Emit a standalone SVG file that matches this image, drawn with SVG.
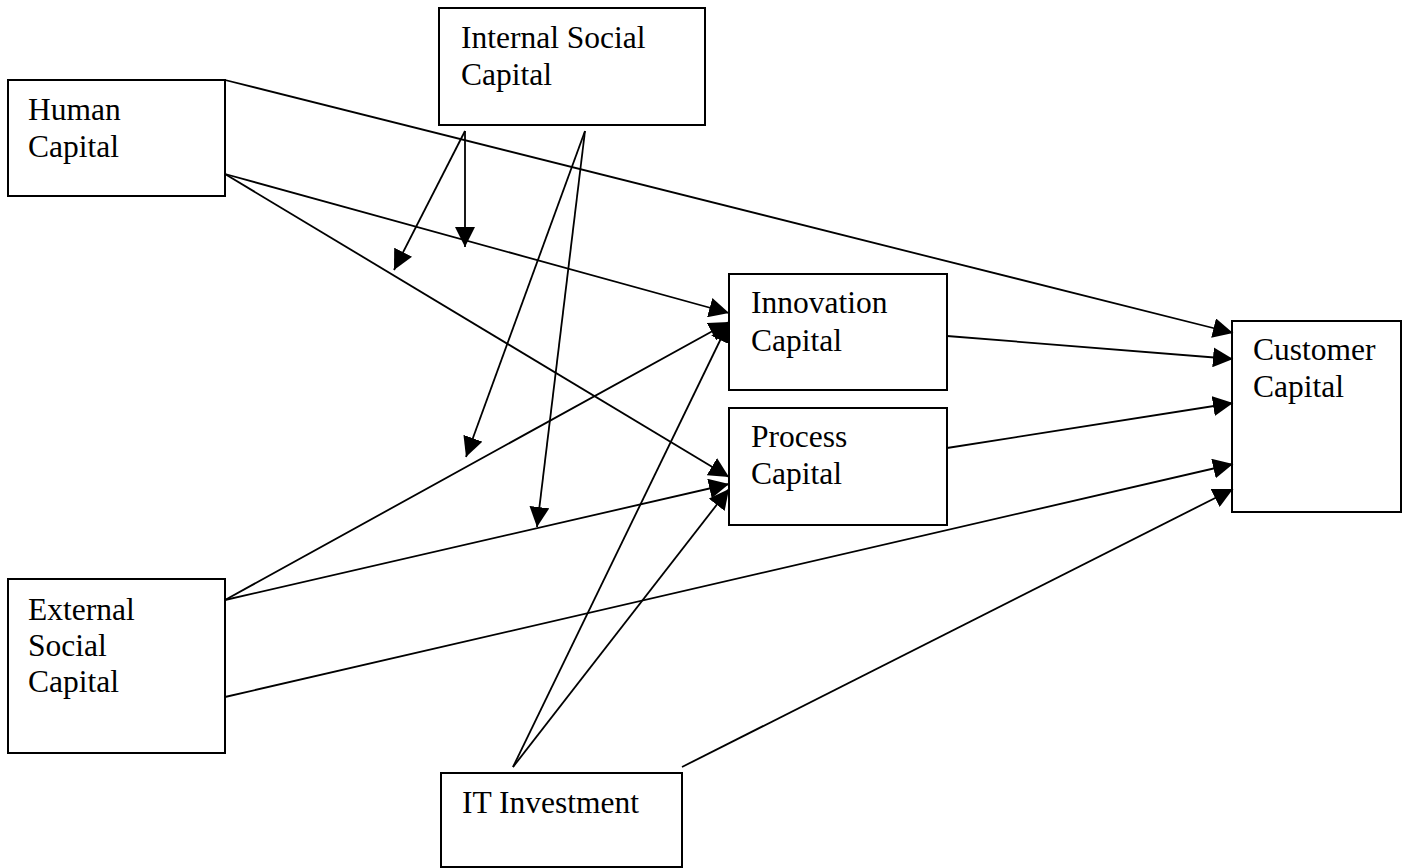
<svg xmlns="http://www.w3.org/2000/svg" width="1407" height="868" viewBox="0 0 1407 868">
<style>
.box{fill:#fff;stroke:#000;stroke-width:2}
.lbl{font-family:"Liberation Serif","Times New Roman",serif;font-size:31.5px;fill:#000}
.c line{stroke:#000;stroke-width:1.8;marker-end:url(#ah)}
.c line.n{marker-end:none}
</style>
<defs>
<marker id="ah" markerUnits="userSpaceOnUse" markerWidth="20" markerHeight="20" refX="20" refY="10" orient="auto">
<path d="M0,0 L20,10 L0,20 z" fill="#000"/>
</marker>
</defs>
<rect width="1407" height="868" fill="#fff"/>
<g id="human"><rect class="box" x="8" y="80" width="217" height="116"/><text class="lbl" x="28" y="120">Human</text><text class="lbl" x="28" y="157">Capital</text></g>
<g id="internal"><rect class="box" x="439" y="8" width="266" height="117"/><text class="lbl" x="461" y="48">Internal Social</text><text class="lbl" x="461" y="85">Capital</text></g>
<g id="innovation"><rect class="box" x="729" y="274" width="218" height="116"/><text class="lbl" x="751" y="313">Innovation</text><text class="lbl" x="751" y="351">Capital</text></g>
<g id="process"><rect class="box" x="729" y="408" width="218" height="117"/><text class="lbl" x="751" y="447">Process</text><text class="lbl" x="751" y="484">Capital</text></g>
<g id="customer"><rect class="box" x="1232" y="321" width="169" height="191"/><text class="lbl" x="1253" y="360">Customer</text><text class="lbl" x="1253" y="397">Capital</text></g>
<g id="external"><rect class="box" x="8" y="579" width="217" height="174"/><text class="lbl" x="28" y="620">External</text><text class="lbl" x="28" y="656">Social</text><text class="lbl" x="28" y="692">Capital</text></g>
<g id="it"><rect class="box" x="441" y="773" width="241" height="94"/><text class="lbl" x="462" y="813">IT Investment</text></g>
<g class="c" id="connectors">
<line x1="225" y1="80" x2="1233" y2="333"/>
<line x1="225" y1="174" x2="729" y2="313"/>
<line x1="225" y1="174" x2="729" y2="477"/>
<line x1="947" y1="336" x2="1233" y2="359"/>
<line x1="947" y1="448" x2="1233" y2="403"/>
<line x1="225" y1="600" x2="729" y2="322"/>
<line x1="225" y1="600" x2="729" y2="484"/>
<line x1="225" y1="697" x2="1233" y2="464"/>
<line x1="513" y1="767" x2="729" y2="322"/>
<line x1="513" y1="767" x2="729" y2="489"/>
<line x1="682" y1="767" x2="1233" y2="489"/>
<line x1="465" y1="131" x2="394" y2="270"/>
<line x1="465" y1="131" x2="465" y2="247"/>
<line x1="585" y1="131" x2="466" y2="457"/>
<line x1="585" y1="131" x2="537" y2="527"/>
</g>
</svg>
